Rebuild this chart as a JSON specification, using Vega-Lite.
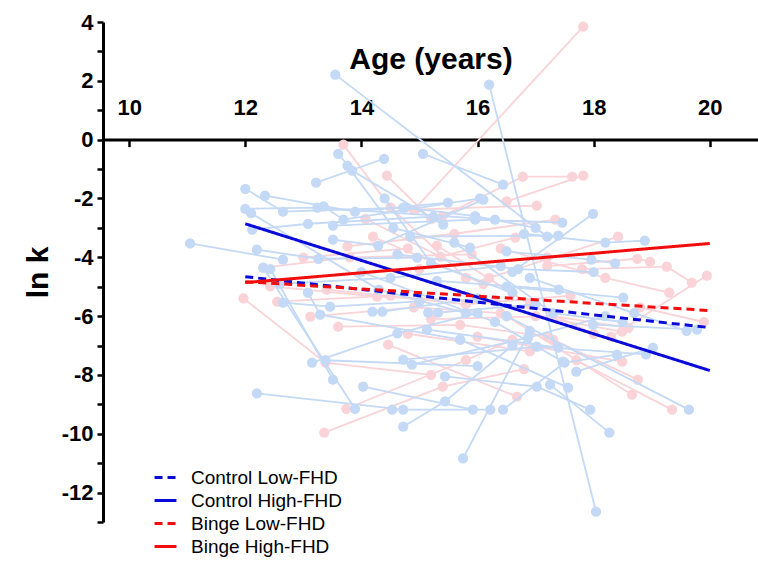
{
  "$schema": "https://vega.github.io/schema/vega-lite/v6.json",
  "autosize": {"type": "none"},
  "padding": {"left": 103, "top": 22, "right": 0, "bottom": 40},
  "width": 655,
  "height": 500,
  "background": "white",
  "config": {"view": {"stroke": null}, "font": "Liberation Sans"},
  "datasets": {
    "control": [
      {"id": "C1", "age": 11.05, "lnk": -3.53}, {"id": "C1", "age": 12.65, "lnk": -4.08},
      {"id": "C2", "age": 13.55, "lnk": 2.21}, {"id": "C2", "age": 17.2, "lnk": -3.3},
      {"id": "C3", "age": 16.2, "lnk": 1.87}, {"id": "C3", "age": 18.04, "lnk": -12.65},
      {"id": "C4", "age": 15.06, "lnk": -0.48}, {"id": "C4", "age": 16.44, "lnk": -1.53},
      {"id": "C5", "age": 12.0, "lnk": -1.67}, {"id": "C5", "age": 12.65, "lnk": -2.45}, {"id": "C5", "age": 14.72, "lnk": -2.31},
      {"id": "C6", "age": 12.34, "lnk": -1.9}, {"id": "C6", "age": 13.89, "lnk": -2.45}, {"id": "C6", "age": 15.49, "lnk": -2.14},
      {"id": "C7", "age": 12.0, "lnk": -2.35}, {"id": "C7", "age": 13.24, "lnk": -2.31}, {"id": "C7", "age": 16.3, "lnk": -2.72},
      {"id": "C8", "age": 13.22, "lnk": -1.46}, {"id": "C8", "age": 14.39, "lnk": -0.65},
      {"id": "C9", "age": 13.6, "lnk": -0.48}, {"id": "C9", "age": 13.84, "lnk": -1.05}, {"id": "C9", "age": 15.41, "lnk": -2.89},
      {"id": "C10", "age": 13.76, "lnk": -0.88}, {"id": "C10", "age": 14.55, "lnk": -3.0}, {"id": "C10", "age": 15.87, "lnk": -3.67},
      {"id": "C11", "age": 12.12, "lnk": -3.06}, {"id": "C11", "age": 13.08, "lnk": -2.86}, {"id": "C11", "age": 15.24, "lnk": -2.62},
      {"id": "C12", "age": 12.2, "lnk": -3.74}, {"id": "C12", "age": 13.26, "lnk": -4.05}, {"id": "C12", "age": 14.96, "lnk": -4.01},
      {"id": "C13", "age": 13.35, "lnk": -2.27}, {"id": "C13", "age": 13.69, "lnk": -2.72}, {"id": "C13", "age": 16.04, "lnk": -2.0},
      {"id": "C14", "age": 13.51, "lnk": -2.92}, {"id": "C14", "age": 15.96, "lnk": -2.72}, {"id": "C14", "age": 17.46, "lnk": -2.82},
      {"id": "C15", "age": 13.51, "lnk": -3.4}, {"id": "C15", "age": 14.29, "lnk": -3.6}, {"id": "C15", "age": 16.1, "lnk": -2.04},
      {"id": "C16", "age": 12.31, "lnk": -4.35}, {"id": "C16", "age": 13.89, "lnk": -9.15},
      {"id": "C17", "age": 12.43, "lnk": -4.4}, {"id": "C17", "age": 13.51, "lnk": -8.16},
      {"id": "C18", "age": 12.2, "lnk": -8.63}, {"id": "C18", "age": 14.72, "lnk": -9.18},
      {"id": "C19", "age": 13.15, "lnk": -7.58}, {"id": "C19", "age": 14.62, "lnk": -6.59}, {"id": "C19", "age": 16.0, "lnk": -5.9},
      {"id": "C20", "age": 13.38, "lnk": -7.5}, {"id": "C20", "age": 16.0, "lnk": -7.7},
      {"id": "C21", "age": 14.03, "lnk": -8.4}, {"id": "C21", "age": 15.92, "lnk": -9.18},
      {"id": "C22", "age": 14.72, "lnk": -9.76}, {"id": "C22", "age": 15.44, "lnk": -8.9}, {"id": "C22", "age": 16.6, "lnk": -7.0},
      {"id": "C23", "age": 15.75, "lnk": -10.84}, {"id": "C23", "age": 16.9, "lnk": -6.5},
      {"id": "C24", "age": 14.53, "lnk": -9.18}, {"id": "C24", "age": 16.22, "lnk": -9.18},
      {"id": "C25", "age": 16.44, "lnk": -9.18}, {"id": "C25", "age": 17.5, "lnk": -7.58}, {"id": "C25", "age": 18.4, "lnk": -7.31},
      {"id": "C26", "age": 15.44, "lnk": -8.05}, {"id": "C26", "age": 17.02, "lnk": -8.4}, {"id": "C26", "age": 17.94, "lnk": -9.18},
      {"id": "C27", "age": 17.25, "lnk": -8.33}, {"id": "C27", "age": 18.27, "lnk": -9.96},
      {"id": "C28", "age": 17.7, "lnk": -7.89}, {"id": "C28", "age": 19.02, "lnk": -7.07},
      {"id": "C29", "age": 16.5, "lnk": -6.0}, {"id": "C29", "age": 19.64, "lnk": -9.18},
      {"id": "C30", "age": 17.99, "lnk": -6.29}, {"id": "C30", "age": 19.78, "lnk": -6.46},
      {"id": "C31", "age": 15.13, "lnk": -6.46}, {"id": "C31", "age": 17.39, "lnk": -7.07},
      {"id": "C32", "age": 15.15, "lnk": -5.88}, {"id": "C32", "age": 15.32, "lnk": -5.88}, {"id": "C32", "age": 17.0, "lnk": -5.6},
      {"id": "C33", "age": 14.19, "lnk": -5.85}, {"id": "C33", "age": 14.36, "lnk": -5.85}, {"id": "C33", "age": 16.0, "lnk": -5.4},
      {"id": "C34", "age": 13.08, "lnk": -5.2}, {"id": "C34", "age": 13.29, "lnk": -5.95}, {"id": "C34", "age": 15.7, "lnk": -6.8},
      {"id": "C35", "age": 12.65, "lnk": -5.54}, {"id": "C35", "age": 13.46, "lnk": -5.68}, {"id": "C35", "age": 15.0, "lnk": -5.5},
      {"id": "C36", "age": 16.6, "lnk": -4.5}, {"id": "C36", "age": 17.99, "lnk": -2.52},
      {"id": "C37", "age": 16.8, "lnk": -3.2}, {"id": "C37", "age": 18.2, "lnk": -3.5}, {"id": "C37", "age": 18.88, "lnk": -3.43},
      {"id": "C38", "age": 16.5, "lnk": -3.8}, {"id": "C38", "age": 17.96, "lnk": -4.08}, {"id": "C38", "age": 18.37, "lnk": -4.21},
      {"id": "C39", "age": 16.5, "lnk": -5.0}, {"id": "C39", "age": 18.51, "lnk": -5.37},
      {"id": "C40", "age": 14.84, "lnk": -3.3}, {"id": "C40", "age": 17.39, "lnk": -3.26},
      {"id": "C41", "age": 14.62, "lnk": -3.9}, {"id": "C41", "age": 16.7, "lnk": -4.4}, {"id": "C41", "age": 18.0, "lnk": -4.5},
      {"id": "C42", "age": 15.3, "lnk": -4.8}, {"id": "C42", "age": 17.4, "lnk": -5.1},
      {"id": "C43", "age": 14.0, "lnk": -4.5}, {"id": "C43", "age": 16.3, "lnk": -6.2}, {"id": "C43", "age": 17.47, "lnk": -7.55},
      {"id": "C44", "age": 15.6, "lnk": -3.5}, {"id": "C44", "age": 17.3, "lnk": -5.9}, {"id": "C44", "age": 18.5, "lnk": -6.2},
      {"id": "C45", "age": 12.1, "lnk": -2.5}, {"id": "C45", "age": 14.3, "lnk": -5.1}, {"id": "C45", "age": 15.8, "lnk": -5.9},
      {"id": "C46", "age": 14.4, "lnk": -2.0}, {"id": "C46", "age": 15.2, "lnk": -4.2}, {"id": "C46", "age": 16.6, "lnk": -5.2},
      {"id": "C47", "age": 16.9, "lnk": -4.7}, {"id": "C47", "age": 18.7, "lnk": -5.9}, {"id": "C47", "age": 19.6, "lnk": -6.5},
      {"id": "C48", "age": 14.75, "lnk": -2.31}, {"id": "C48", "age": 15.96, "lnk": -2.6}, {"id": "C48", "age": 17.0, "lnk": -3.0},
      {"id": "C49", "age": 14.87, "lnk": -7.65}, {"id": "C49", "age": 16.87, "lnk": -6.73}, {"id": "C49", "age": 18.2, "lnk": -6.0},
      {"id": "C50", "age": 14.72, "lnk": -7.48}, {"id": "C50", "age": 17.02, "lnk": -7.04}, {"id": "C50", "age": 18.9, "lnk": -7.3},
      {"id": "C51", "age": 15.7, "lnk": -6.8}, {"id": "C51", "age": 17.56, "lnk": -8.43},
      {"id": "C52", "age": 12.6, "lnk": -4.9}, {"id": "C52", "age": 14.5, "lnk": -4.7}, {"id": "C52", "age": 16.4, "lnk": -4.3}
    ],
    "binge": [
      {"id": "B1", "age": 14.9, "lnk": -2.4}, {"id": "B1", "age": 17.82, "lnk": 3.84},
      {"id": "B2", "age": 13.69, "lnk": -0.17}, {"id": "B2", "age": 14.5, "lnk": -2.3}, {"id": "B2", "age": 15.8, "lnk": -4.7},
      {"id": "B3", "age": 14.44, "lnk": -1.22}, {"id": "B3", "age": 15.2, "lnk": -2.7},
      {"id": "B4", "age": 15.4, "lnk": -2.6}, {"id": "B4", "age": 16.78, "lnk": -1.26}, {"id": "B4", "age": 17.63, "lnk": -1.26},
      {"id": "B5", "age": 16.5, "lnk": -2.1}, {"id": "B5", "age": 17.82, "lnk": -1.22},
      {"id": "B6", "age": 14.93, "lnk": -2.38}, {"id": "B6", "age": 17.02, "lnk": -2.24},
      {"id": "B7", "age": 14.07, "lnk": -2.69}, {"id": "B7", "age": 15.36, "lnk": -3.98}, {"id": "B7", "age": 16.65, "lnk": -3.33},
      {"id": "B8", "age": 13.76, "lnk": -3.63}, {"id": "B8", "age": 15.6, "lnk": -3.2}, {"id": "B8", "age": 17.34, "lnk": -2.72},
      {"id": "B9", "age": 13.0, "lnk": -4.01}, {"id": "B9", "age": 14.8, "lnk": -3.7},
      {"id": "B10", "age": 12.31, "lnk": -4.35}, {"id": "B10", "age": 13.8, "lnk": -4.0}, {"id": "B10", "age": 15.9, "lnk": -3.9},
      {"id": "B11", "age": 11.97, "lnk": -5.4}, {"id": "B11", "age": 13.38, "lnk": -7.58}, {"id": "B11", "age": 15.2, "lnk": -8.0},
      {"id": "B12", "age": 12.43, "lnk": -4.99}, {"id": "B12", "age": 14.27, "lnk": -5.34}, {"id": "B12", "age": 16.3, "lnk": -5.5},
      {"id": "B13", "age": 12.55, "lnk": -5.51}, {"id": "B13", "age": 14.5, "lnk": -5.3},
      {"id": "B14", "age": 13.12, "lnk": -6.02}, {"id": "B14", "age": 14.9, "lnk": -5.7}, {"id": "B14", "age": 16.4, "lnk": -5.9},
      {"id": "B15", "age": 13.6, "lnk": -6.36}, {"id": "B15", "age": 15.7, "lnk": -6.3}, {"id": "B15", "age": 17.2, "lnk": -6.7},
      {"id": "B16", "age": 13.74, "lnk": -9.15}, {"id": "B16", "age": 15.8, "lnk": -7.5}, {"id": "B16", "age": 16.6, "lnk": -6.8},
      {"id": "B17", "age": 13.36, "lnk": -9.96}, {"id": "B17", "age": 15.4, "lnk": -8.4}, {"id": "B17", "age": 16.8, "lnk": -7.8},
      {"id": "B18", "age": 14.46, "lnk": -6.97}, {"id": "B18", "age": 16.68, "lnk": -8.74},
      {"id": "B19", "age": 16.0, "lnk": -6.7}, {"id": "B19", "age": 18.49, "lnk": -7.55},
      {"id": "B20", "age": 16.5, "lnk": -6.0}, {"id": "B20", "age": 18.66, "lnk": -8.67},
      {"id": "B21", "age": 17.3, "lnk": -6.8}, {"id": "B21", "age": 18.76, "lnk": -8.16},
      {"id": "B22", "age": 17.7, "lnk": -7.5}, {"id": "B22", "age": 19.35, "lnk": -9.18},
      {"id": "B23", "age": 16.2, "lnk": -4.7}, {"id": "B23", "age": 18.42, "lnk": -3.3},
      {"id": "B24", "age": 17.2, "lnk": -4.3}, {"id": "B24", "age": 18.75, "lnk": -4.05}, {"id": "B24", "age": 18.97, "lnk": -4.15},
      {"id": "B25", "age": 17.8, "lnk": -4.4}, {"id": "B25", "age": 19.26, "lnk": -4.32}, {"id": "B25", "age": 19.69, "lnk": -4.86},
      {"id": "B26", "age": 18.3, "lnk": -6.7}, {"id": "B26", "age": 19.95, "lnk": -4.62},
      {"id": "B27", "age": 17.0, "lnk": -6.0}, {"id": "B27", "age": 18.49, "lnk": -6.53},
      {"id": "B28", "age": 15.2, "lnk": -6.1}, {"id": "B28", "age": 17.3, "lnk": -6.0}, {"id": "B28", "age": 18.6, "lnk": -6.4},
      {"id": "B29", "age": 14.2, "lnk": -3.3}, {"id": "B29", "age": 16.1, "lnk": -4.9},
      {"id": "B30", "age": 15.0, "lnk": -4.4}, {"id": "B30", "age": 17.2, "lnk": -4.0},
      {"id": "B31", "age": 13.4, "lnk": -5.1}, {"id": "B31", "age": 15.8, "lnk": -5.6}, {"id": "B31", "age": 17.6, "lnk": -5.3},
      {"id": "B32", "age": 16.4, "lnk": -3.7}, {"id": "B32", "age": 18.2, "lnk": -4.7}, {"id": "B32", "age": 19.3, "lnk": -5.2},
      {"id": "B33", "age": 18.8, "lnk": -5.7}, {"id": "B33", "age": 19.9, "lnk": -6.2},
      {"id": "B34", "age": 14.8, "lnk": -6.6}, {"id": "B34", "age": 16.9, "lnk": -7.2},
      {"id": "B35", "age": 15.3, "lnk": -3.6}, {"id": "B35", "age": 16.9, "lnk": -5.6}, {"id": "B35", "age": 18.0, "lnk": -6.6}
    ],
    "fits": [
      {"series": "Control Low-FHD", "age": 12, "lnk": -4.66}, {"series": "Control Low-FHD", "age": 20, "lnk": -6.39},
      {"series": "Control High-FHD", "age": 12, "lnk": -2.86}, {"series": "Control High-FHD", "age": 20, "lnk": -7.85},
      {"series": "Binge Low-FHD", "age": 12, "lnk": -4.83}, {"series": "Binge Low-FHD", "age": 20, "lnk": -5.81},
      {"series": "Binge High-FHD", "age": 12, "lnk": -4.86}, {"series": "Binge High-FHD", "age": 20, "lnk": -3.53}
    ]
  },
  "encoding": {
    "x": {
      "field": "age", "type": "quantitative",
      "scale": {"domain": [9.55, 20.83], "nice": false, "zero": false},
      "axis": {
        "orient": "top", "offset": -117.6, "values": [10, 12, 14, 16, 18, 20],
        "grid": false, "domainWidth": 3, "domainColor": "black",
        "tickWidth": 2.5, "tickColor": "black", "tickSize": -7,
        "labelFontSize": 22, "labelFontWeight": "bold", "labelColor": "black", "labelPadding": 27,
        "title": "Age (years)", "titleFontSize": 30, "titleFontWeight": "bold", "titleColor": "black", "titlePadding": 22
      }
    },
    "y": {
      "field": "lnk", "type": "quantitative",
      "scale": {"domain": [-13, 4], "nice": false, "zero": false},
      "axis": {
        "values": [-13, -12, -11, -10, -9, -8, -7, -6, -5, -4, -3, -2, -1, 0, 1, 2, 3, 4],
        "labelExpr": "datum.value % 2 === 0 ? '' + datum.value : ''",
        "grid": false, "domainWidth": 3, "domainColor": "black",
        "tickWidth": 2.5, "tickColor": "black", "tickSize": 6,
        "labelFontSize": 22, "labelFontWeight": "bold", "labelColor": "black", "labelPadding": 4,
        "title": "ln k", "titleFontSize": 30, "titleFontWeight": "bold", "titleColor": "black", "titlePadding": 8
      }
    }
  },
  "layer": [
    {
      "data": {"name": "binge"},
      "mark": {"type": "line", "color": "#f9d3d7", "strokeWidth": 1.8,
               "point": {"filled": true, "size": 105, "color": "#f9d3d7", "opacity": 1}},
      "encoding": {"detail": {"field": "id"}}
    },
    {
      "data": {"name": "control"},
      "mark": {"type": "line", "color": "#c3d9f5", "strokeWidth": 1.8,
               "point": {"filled": true, "size": 105, "color": "#c3d9f5", "opacity": 1}},
      "encoding": {"detail": {"field": "id"}}
    },
    {
      "data": {"name": "fits"},
      "mark": {"type": "line", "strokeWidth": 3},
      "encoding": {
        "color": {
          "field": "series", "type": "nominal",
          "scale": {"domain": ["Control Low-FHD", "Control High-FHD", "Binge Low-FHD", "Binge High-FHD"],
                    "range": ["#0a0ad8", "#0a0ad8", "#f20d0d", "#f20d0d"]},
          "legend": {
            "orient": "none", "legendX": 50, "legendY": 443, "title": null,
            "symbolType": "stroke", "symbolStrokeWidth": 3, "symbolSize": 480,
            "labelFontSize": 19, "labelColor": "black", "labelOffset": 13, "rowPadding": 0
          }
        },
        "strokeDash": {
          "field": "series", "type": "nominal",
          "scale": {"domain": ["Control Low-FHD", "Control High-FHD", "Binge Low-FHD", "Binge High-FHD"],
                    "range": [[8, 5], [1, 0], [8, 5], [1, 0]]},
          "legend": {
            "orient": "none", "legendX": 50, "legendY": 443, "title": null,
            "symbolType": "stroke", "symbolStrokeWidth": 3, "symbolSize": 480,
            "labelFontSize": 19, "labelColor": "black", "labelOffset": 13, "rowPadding": 0
          }
        }
      }
    }
  ]
}
